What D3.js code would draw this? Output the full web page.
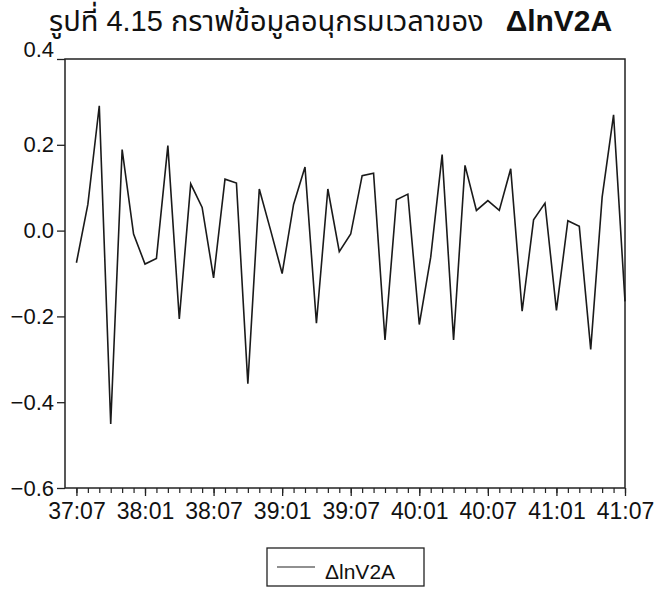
<!DOCTYPE html>
<html>
<head>
<meta charset="utf-8">
<script src="https://cdn.jsdelivr.net/npm/d3@7"></script>
<style>
  body { margin: 0; background: #fff; }
  text { font-family: "Liberation Sans", Arial, "Noto Sans Thai", sans-serif; fill: #111; }
</style>
</head>
<body>
<svg id="chart" width="660" height="591"></svg>
<script>
// monthly changes, 37:07 .. 41:07
var values = [
  -0.075, 0.061, 0.291, -0.451, 0.189, -0.008, -0.078, -0.065, 0.198, -0.206,
  0.109, 0.054, -0.110, 0.120, 0.111, -0.357, 0.097, 0.000, -0.100, 0.061,
  0.148, -0.216, 0.097, -0.049, -0.008, 0.128, 0.134, -0.255, 0.072, 0.085,
  -0.219, -0.062, 0.177, -0.255, 0.152, 0.047, 0.070, 0.047, 0.144, -0.188,
  0.025, 0.064, -0.186, 0.023, 0.010, -0.277, 0.078, 0.270, -0.165
];
var xTickLabels = ["37:07", "38:01", "38:07", "39:01", "39:07", "40:01", "40:07", "41:01", "41:07"];
var yTicks = [0.4, 0.2, 0.0, -0.2, -0.4, -0.6];
var seriesName = "\u0394lnV2A";
var titleText = "รูปที่ 4.15 กราฟข้อมูลอนุกรมเวลาของ";

var svg = d3.select("#chart"),
    plotL = 65, plotR = 625, plotT = 59, plotB = 488;

var x = d3.scaleLinear().domain([-1, values.length - 1]).range([plotL, plotR]);
var y = d3.scaleLinear().domain([-0.6, 0.4]).range([plotB, plotT]);

// title
var title = svg.append("text")
    .attr("x", 49).attr("y", 31)
    .style("font-size", "29px");
title.append("tspan").text(titleText);
title.append("tspan").attr("dx", 22).style("font-weight", "bold").style("font-size", "30px").text(seriesName);

// y axis
var yAxis = d3.axisLeft(y).tickValues(yTicks).tickSize(8).tickSizeOuter(0)
    .tickFormat(d3.format(".1f"));
var gy = svg.append("g").attr("transform", "translate(" + plotL + ",0)").call(yAxis);
gy.select(".domain").remove();
gy.selectAll("line").attr("stroke", "#222").attr("stroke-width", 1.3);
gy.selectAll("text").style("font-size", "22px").attr("x", -11).attr("fill", "#111");
gy.selectAll("text").filter(function (d) { return d === 0.4; }).attr("dy", "-0.1em");

// x axis: minor tick every month, major every six
var minor = d3.range(0, values.length);
var gxm = svg.append("g").attr("transform", "translate(0," + plotB + ")")
    .call(d3.axisBottom(x).tickValues(minor).tickSize(5).tickFormat(""));
gxm.select(".domain").remove();
gxm.selectAll("line").attr("stroke", "#222").attr("stroke-width", 1.2);

var major = xTickLabels.map(function (d, i) { return i * 6; });
var gx = svg.append("g").attr("transform", "translate(0," + plotB + ")")
    .call(d3.axisBottom(x).tickValues(major).tickSize(8).tickPadding(7)
      .tickFormat(function (d, i) { return xTickLabels[i]; }));
gx.select(".domain").remove();
gx.selectAll("line").attr("stroke", "#222").attr("stroke-width", 1.3);
gx.selectAll("text").style("font-size", "23px").attr("fill", "#111");

// frame
svg.append("rect")
    .attr("x", plotL).attr("y", plotT)
    .attr("width", plotR - plotL).attr("height", plotB - plotT)
    .attr("fill", "none").attr("stroke", "#222").attr("stroke-width", 1.5);

// series
var line = d3.line()
    .x(function (d, i) { return x(i); })
    .y(function (d) { return y(d); });
svg.append("path")
    .datum(values)
    .attr("d", line)
    .attr("fill", "none")
    .attr("stroke", "#1a1a1a")
    .attr("stroke-width", 1.6)
    .attr("stroke-linejoin", "miter");

// legend
var lg = svg.append("g").attr("transform", "translate(267,548)");
lg.append("rect").attr("width", 157).attr("height", 38)
    .attr("fill", "none").attr("stroke", "#222").attr("stroke-width", 1.3);
lg.append("line").attr("x1", 10).attr("x2", 48).attr("y1", 19).attr("y2", 19)
    .attr("stroke", "#222").attr("stroke-width", 1.2);
lg.append("text").attr("x", 58).attr("y", 31).style("font-size", "21px").text(seriesName);
</script>
</body>
</html>
